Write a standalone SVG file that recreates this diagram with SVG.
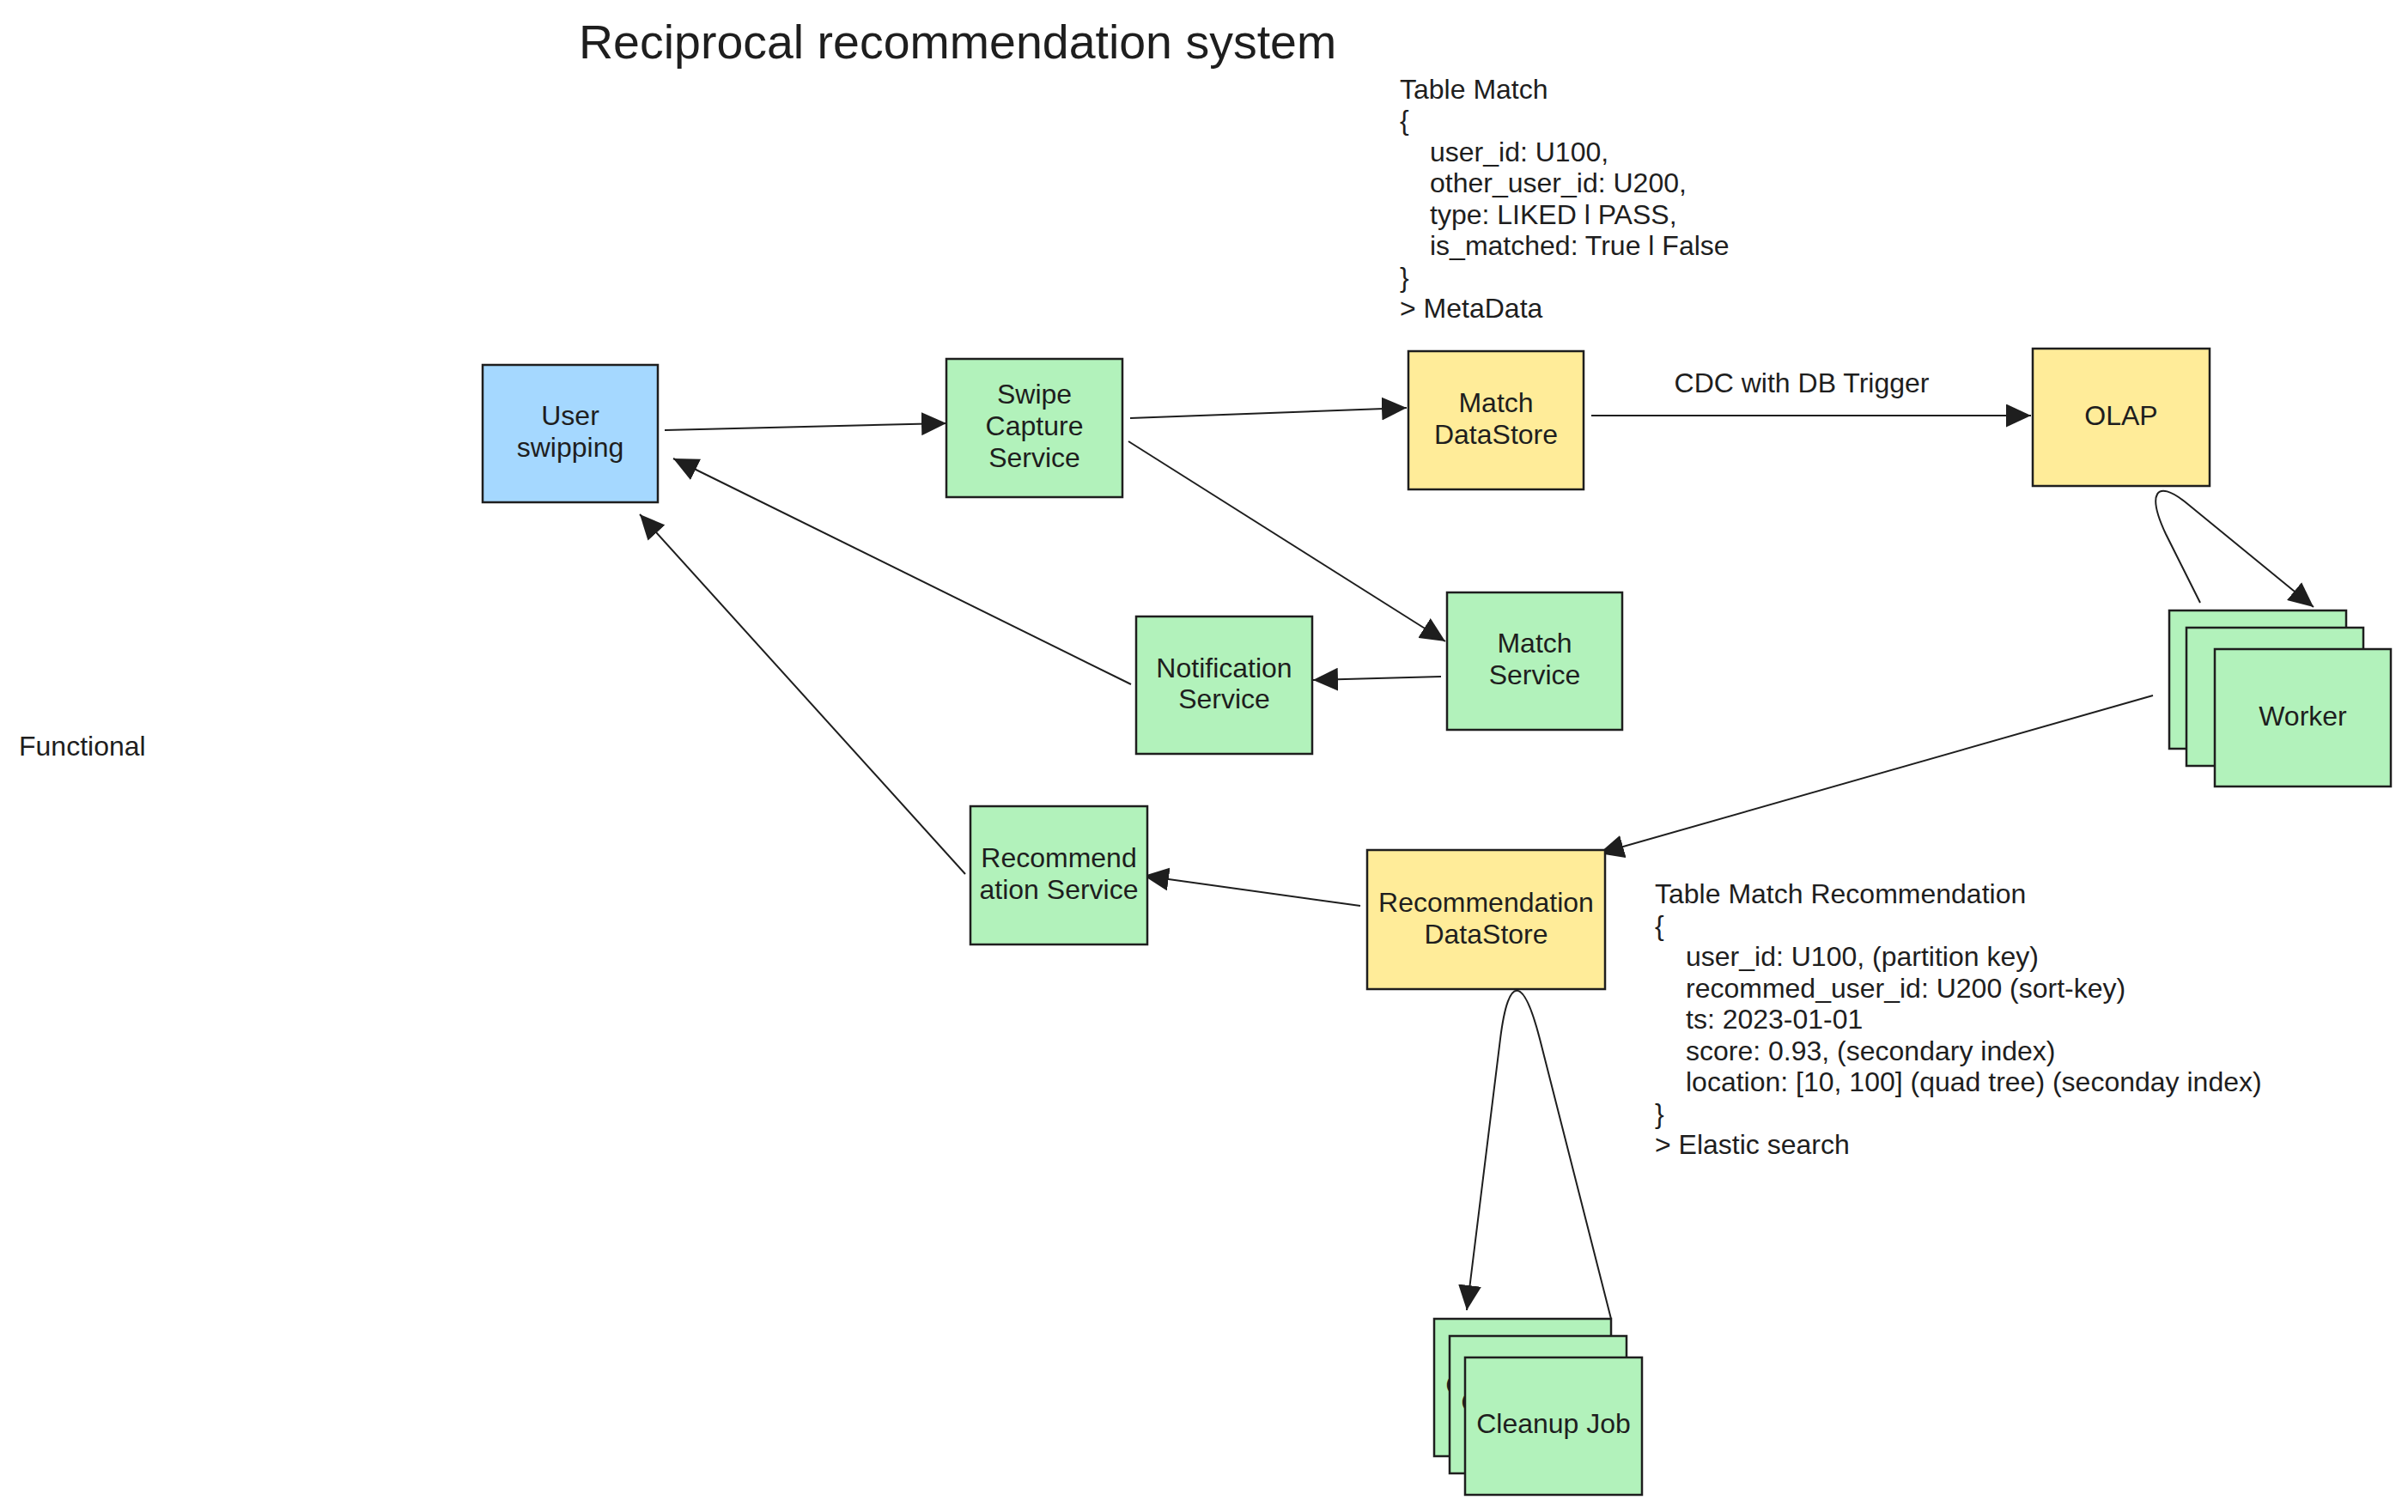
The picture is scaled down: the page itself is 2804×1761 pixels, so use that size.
<svg xmlns="http://www.w3.org/2000/svg" width="2804" height="1761" viewBox="0 0 2804 1761">
<style>
text{font-family:"Liberation Sans",Arial,Helvetica,sans-serif;font-size:32px;fill:#1e1e1e}
.c{text-anchor:middle}
.title{font-size:55.5px}
.box{stroke:#1e1e1e;stroke-width:2.5}
.blue{fill:#a5d8ff}
.green{fill:#b2f2bb}
.yellow{fill:#ffec99}
.edge{fill:none;stroke:#1e1e1e;stroke-width:2}
</style>
<defs>
<marker id="ah" viewBox="0 0 29 27" refX="29" refY="13.5" markerWidth="29" markerHeight="27" markerUnits="userSpaceOnUse" orient="auto">
<path d="M0,0 L29,13.5 L0,27 Z" fill="#1e1e1e"/>
</marker>
</defs>
<rect width="2804" height="1761" fill="#ffffff"/>
<text class="title" x="674" y="68">Reciprocal recommendation system</text>
<text x="22" y="880">Functional</text>
<g id="note-match">
<text x="1630" y="114.5">Table Match</text>
<text x="1630" y="151">{</text>
<text x="1665" y="187.5">user_id: U100,</text>
<text x="1665" y="224">other_user_id: U200,</text>
<text x="1665" y="260.5">type: LIKED l PASS,</text>
<text x="1665" y="297">is_matched: True l False</text>
<text x="1630" y="333.5">}</text>
<text x="1630" y="370">&gt; MetaData</text>
</g>
<g id="note-rec">
<text x="1927" y="1052">Table Match Recommendation</text>
<text x="1927" y="1088.5">{</text>
<text x="1963" y="1125">user_id: U100, (partition key)</text>
<text x="1963" y="1161.5">recommed_user_id: U200 (sort-key)</text>
<text x="1963" y="1198">ts: 2023-01-01</text>
<text x="1963" y="1234.5">score: 0.93, (secondary index)</text>
<text x="1963" y="1271">location: [10, 100] (quad tree) (seconday index)</text>
<text x="1927" y="1307.5">}</text>
<text x="1927" y="1344">&gt; Elastic search</text>
</g>
<g id="connectors">
<path class="edge" d="M774,501 L1102,493" marker-end="url(#ah)"/>
<path class="edge" d="M1316,487 L1638,475" marker-end="url(#ah)"/>
<path class="edge" d="M1853,484 L2365,484" marker-end="url(#ah)"/>
<path class="edge" d="M1314,514 L1683,747" marker-end="url(#ah)"/>
<path class="edge" d="M1678,788 L1529,792" marker-end="url(#ah)"/>
<path class="edge" d="M1317,797 L784,534" marker-end="url(#ah)"/>
<path class="edge" d="M1124,1018 L745,599" marker-end="url(#ah)"/>
<path class="edge" d="M2562,702 L2522,622 C2500,575 2510,557 2545,585 L2694,707" marker-end="url(#ah)"/>
<path class="edge" d="M2507,810 L1862,994" marker-end="url(#ah)"/>
<path class="edge" d="M1584,1055 L1332,1020" marker-end="url(#ah)"/>
<path class="edge" d="M1876,1536 L1793,1210 C1775,1140 1757,1130 1747,1210 L1708,1526" marker-end="url(#ah)"/>
<text class="c" x="2098" y="457">CDC with DB Trigger</text>
</g>
<g id="user-swipping">
<rect class="box blue" x="562" y="425" width="204" height="160"/>
<text class="c" x="664" y="495">User</text>
<text class="c" x="664" y="532">swipping</text>
</g>
<g id="swipe-capture-service">
<rect class="box green" x="1102" y="418" width="205" height="161"/>
<text class="c" x="1204.5" y="470">Swipe</text>
<text class="c" x="1204.5" y="507">Capture</text>
<text class="c" x="1204.5" y="544">Service</text>
</g>
<g id="match-datastore">
<rect class="box yellow" x="1640" y="409" width="204" height="161"/>
<text class="c" x="1742" y="480">Match</text>
<text class="c" x="1742" y="517">DataStore</text>
</g>
<g id="olap">
<rect class="box yellow" x="2367" y="406" width="206" height="160"/>
<text class="c" x="2470" y="495">OLAP</text>
</g>
<g id="match-service">
<rect class="box green" x="1685" y="690" width="204" height="160"/>
<text class="c" x="1787" y="760">Match</text>
<text class="c" x="1787" y="797">Service</text>
</g>
<g id="notification-service">
<rect class="box green" x="1323" y="718" width="205" height="160"/>
<text class="c" x="1425.5" y="789">Notification</text>
<text class="c" x="1425.5" y="825">Service</text>
</g>
<g id="recommendation-service">
<rect class="box green" x="1130" y="939" width="206" height="161"/>
<text class="c" x="1233" y="1010">Recommend</text>
<text class="c" x="1233" y="1047">ation Service</text>
</g>
<g id="recommendation-datastore">
<rect class="box yellow" x="1592" y="990" width="277" height="162"/>
<text class="c" x="1730.5" y="1062">Recommendation</text>
<text class="c" x="1730.5" y="1099">DataStore</text>
</g>
<g id="worker">
<rect class="box green" x="2526" y="711" width="206" height="161"/>
<rect class="box green" x="2546" y="731" width="206" height="161"/>
<rect class="box green" x="2579" y="756" width="205" height="160"/>
<text class="c" x="2681.5" y="845">Worker</text>
</g>
<g id="cleanup-job">
<rect class="box green" x="1670" y="1536" width="206" height="160"/>
<text class="c" x="1773" y="1624">Cleanup Job</text>
<rect class="box green" x="1688" y="1556" width="206" height="160"/>
<text class="c" x="1791" y="1644">Cleanup Job</text>
<rect class="box green" x="1706" y="1581" width="206" height="160"/>
<text class="c" x="1809" y="1669">Cleanup Job</text>
</g>
</svg>
